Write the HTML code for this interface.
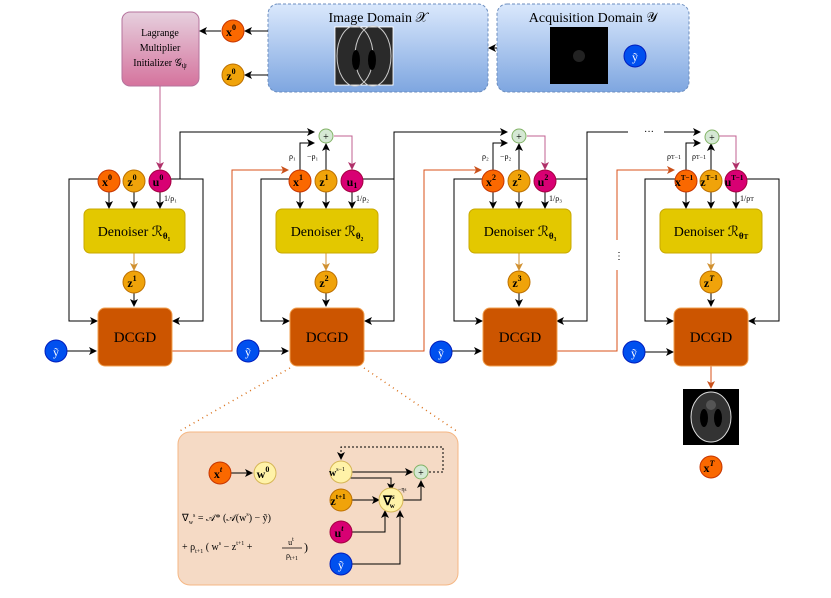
<!DOCTYPE html>
<html><head><meta charset="utf-8"><style>
body{margin:0;background:#fff}
text{font-family:"Liberation Serif",serif;}
</style></head><body>
<svg width="831" height="593" viewBox="0 0 831 593" xmlns="http://www.w3.org/2000/svg">
<defs>
<marker id="a" markerWidth="8" markerHeight="8" refX="7" refY="4" orient="auto" markerUnits="userSpaceOnUse"><path d="M0,0 L8,4 L0,8 L2,4z" fill="#000"/></marker>
<marker id="ao" markerWidth="8" markerHeight="8" refX="7" refY="4" orient="auto" markerUnits="userSpaceOnUse"><path d="M0,0 L8,4 L0,8 L2,4z" fill="#c9501a"/></marker>
<marker id="ap" markerWidth="8" markerHeight="8" refX="7" refY="4" orient="auto" markerUnits="userSpaceOnUse"><path d="M0,0 L8,4 L0,8 L2,4z" fill="#b0306a"/></marker>
<marker id="ay" markerWidth="8" markerHeight="8" refX="7" refY="4" orient="auto" markerUnits="userSpaceOnUse"><path d="M0,0 L8,4 L0,8 L2,4z" fill="#d09030"/></marker>
<linearGradient id="gb" x1="0" y1="0" x2="0" y2="1"><stop offset="0" stop-color="#dae8fc"/><stop offset="1" stop-color="#7ea6e0"/></linearGradient>
<linearGradient id="gp" x1="0" y1="0" x2="0" y2="1"><stop offset="0" stop-color="#e6d0de"/><stop offset="1" stop-color="#d5739d"/></linearGradient>
</defs>

<!-- top boxes -->
<rect x="122" y="12" width="77" height="74" rx="8" fill="url(#gp)" stroke="#b5739d"/>
<text x="160" y="36" font-size="10" text-anchor="middle">Lagrange</text>
<text x="160" y="51" font-size="10" text-anchor="middle">Multiplier</text>
<text x="160" y="66" font-size="10" text-anchor="middle">Initializer 𝒢<tspan font-size="8" dy="2">ψ</tspan></text>
<rect x="268" y="4" width="220" height="88" rx="10" fill="url(#gb)" stroke="#6c8ebf" stroke-dasharray="3,2"/>
<text x="378" y="22" font-size="14" text-anchor="middle">Image Domain 𝒳</text>
<rect x="335" y="27" width="58" height="58" fill="#000" stroke="#fff"/>
<rect x="336" y="28" width="56" height="56" fill="#2a2a2a"/>
<ellipse cx="355" cy="56" rx="18" ry="30" fill="none" stroke="#ccc"/>
<ellipse cx="373" cy="56" rx="18" ry="30" fill="none" stroke="#ccc"/>
<ellipse cx="356" cy="60" rx="4" ry="10" fill="#000"/><ellipse cx="372" cy="60" rx="4" ry="10" fill="#000"/>
<rect x="497" y="4" width="192" height="88" rx="10" fill="url(#gb)" stroke="#6c8ebf" stroke-dasharray="3,2"/>
<text x="593" y="22" font-size="14" text-anchor="middle">Acquisition Domain 𝒴</text>
<rect x="550" y="27" width="58" height="57" fill="#000"/>
<circle cx="579" cy="56" r="6" fill="#222"/>

<g stroke="#000" fill="none">
<line x1="268" y1="31" x2="245" y2="31" marker-end="url(#a)"/>
<line x1="221" y1="31" x2="200" y2="31" marker-end="url(#a)"/>
<line x1="268" y1="75" x2="245" y2="75" marker-end="url(#a)"/>
<line x1="497" y1="48" x2="489" y2="48" marker-end="url(#a)"/>
</g>
<line x1="160" y1="86" x2="160" y2="169" stroke="#c06090" marker-end="url(#ap)"/>

<!-- stage wiring -->
<g fill="none" stroke="#000">
<polyline points="98,179 69,179 69,321 97,321" marker-end="url(#a)"/>
<polyline points="171,179 203,179 203,321 173,321" marker-end="url(#a)"/>
<polyline points="171,179 180,179 180,132 314,132" marker-end="url(#a)"/>
<polyline points="289,179 261,179 261,321 289,321" marker-end="url(#a)"/>
<polyline points="363,179 394,179 394,321 365,321" marker-end="url(#a)"/>
<polyline points="394,179 394,132 507,132" marker-end="url(#a)"/>
<polyline points="300,170 300,143 314,143" marker-end="url(#a)"/>
<line x1="326" y1="170" x2="326" y2="144" marker-end="url(#a)"/>
<polyline points="482,179 454,179 454,321 482,321" marker-end="url(#a)"/>
<polyline points="556,179 587,179 587,321 557,321" marker-end="url(#a)"/>
<polyline points="587,179 587,132 628,132"/>
<polyline points="664,132 700,132" marker-end="url(#a)"/>
<polyline points="493,170 493,143 507,143" marker-end="url(#a)"/>
<line x1="519" y1="170" x2="519" y2="144" marker-end="url(#a)"/>
<polyline points="675,179 645,179 645,321 673,321" marker-end="url(#a)"/>
<polyline points="747,179 779,179 779,321 749,321" marker-end="url(#a)"/>
<polyline points="686,170 686,143 700,143" marker-end="url(#a)"/>
<line x1="711" y1="170" x2="711" y2="144" marker-end="url(#a)"/>
</g>
<g fill="none" stroke="#c06090">
<polyline points="334,136 352,136 352,169" marker-end="url(#ap)"/>
<polyline points="527,136 545,136 545,169" marker-end="url(#ap)"/>
<polyline points="719,136 736,136 736,169" marker-end="url(#ap)"/>
</g>
<g fill="none" stroke="#d9501a">
<polyline points="172,351 232,351 232,170 288,170" marker-end="url(#ao)"/>
<polyline points="364,351 424,351 424,170 481,170" marker-end="url(#ao)"/>
<polyline points="556,351 617,351 617,270"/>
<polyline points="617,240 617,170 674,170" marker-end="url(#ao)"/>
<line x1="711" y1="366" x2="711" y2="388" marker-end="url(#ao)"/>
</g>
<text x="644" y="135" font-size="10">···</text>
<text x="614" y="259" font-size="10">⋮</text>

<g stroke="#000">
<line x1="109" y1="192" x2="109" y2="208" marker-end="url(#a)"/>
<line x1="134" y1="192" x2="134" y2="208" marker-end="url(#a)"/>
<line x1="160" y1="192" x2="160" y2="208" marker-end="url(#a)"/>
<line x1="134" y1="293" x2="134" y2="306" marker-end="url(#a)"/>
<line x1="67" y1="351" x2="96" y2="351" marker-end="url(#a)"/>
<line x1="300" y1="192" x2="300" y2="208" marker-end="url(#a)"/>
<line x1="326" y1="192" x2="326" y2="208" marker-end="url(#a)"/>
<line x1="352" y1="192" x2="352" y2="208" marker-end="url(#a)"/>
<line x1="326" y1="293" x2="326" y2="306" marker-end="url(#a)"/>
<line x1="259" y1="351" x2="288" y2="351" marker-end="url(#a)"/>
<line x1="493" y1="192" x2="493" y2="208" marker-end="url(#a)"/>
<line x1="519" y1="192" x2="519" y2="208" marker-end="url(#a)"/>
<line x1="545" y1="192" x2="545" y2="208" marker-end="url(#a)"/>
<line x1="519" y1="293" x2="519" y2="306" marker-end="url(#a)"/>
<line x1="452" y1="351" x2="481" y2="351" marker-end="url(#a)"/>
<line x1="686" y1="192" x2="686" y2="208" marker-end="url(#a)"/>
<line x1="711" y1="192" x2="711" y2="208" marker-end="url(#a)"/>
<line x1="736" y1="192" x2="736" y2="208" marker-end="url(#a)"/>
<line x1="711" y1="293" x2="711" y2="306" marker-end="url(#a)"/>
<line x1="645" y1="352" x2="673" y2="352" marker-end="url(#a)"/>
</g>
<g stroke="#d09030">
<line x1="134" y1="253" x2="134" y2="270" marker-end="url(#ay)"/>
<line x1="326" y1="253" x2="326" y2="270" marker-end="url(#ay)"/>
<line x1="519" y1="253" x2="519" y2="270" marker-end="url(#ay)"/>
<line x1="711" y1="253" x2="711" y2="270" marker-end="url(#ay)"/>
</g>

<g fill="#e3c800" stroke="#c8a800">
<rect x="84" y="209" width="101" height="44" rx="6"/>
<rect x="276" y="209" width="102" height="44" rx="6"/>
<rect x="469" y="209" width="102" height="44" rx="6"/>
<rect x="660" y="209" width="102" height="44" rx="6"/>
</g>
<g font-size="14" text-anchor="middle">
<text x="134" y="236">Denoiser ℛ<tspan font-size="9" dy="3" font-weight="bold">θ₁</tspan></text>
<text x="327" y="236">Denoiser ℛ<tspan font-size="9" dy="3" font-weight="bold">θ₂</tspan></text>
<text x="520" y="236">Denoiser ℛ<tspan font-size="9" dy="3" font-weight="bold">θ₃</tspan></text>
<text x="711" y="236">Denoiser ℛ<tspan font-size="9" dy="3" font-weight="bold">θ<tspan font-size="7">T</tspan></tspan></text>
</g>
<g fill="#cc5500" stroke="#f0a050">
<rect x="98" y="308" width="74" height="58" rx="7"/>
<rect x="290" y="308" width="74" height="58" rx="7"/>
<rect x="483" y="308" width="74" height="58" rx="7"/>
<rect x="674" y="308" width="74" height="58" rx="7"/>
</g>
<g font-size="15" text-anchor="middle">
<text x="135" y="342">DCGD</text><text x="327" y="342">DCGD</text><text x="520" y="342">DCGD</text><text x="711" y="342">DCGD</text>
</g>

<!-- zoom box (drawn before inner circles) -->
<g stroke="#d9701a" stroke-dasharray="1,4" stroke-width="1.5">
<line x1="290" y1="368" x2="178" y2="432"/><line x1="364" y1="368" x2="458" y2="432"/>
</g>
<rect x="178" y="432" width="280" height="153" rx="12" fill="#f5dac5" stroke="#f5b784"/>
<g fill="none" stroke="#000">
<line x1="231" y1="473" x2="252" y2="473" marker-end="url(#a)"/>
<line x1="352" y1="472" x2="412" y2="472" marker-end="url(#a)"/>
<polyline points="350,478 391,478 391,490" marker-end="url(#a)"/>
<line x1="352" y1="500" x2="379" y2="500" marker-end="url(#a)"/>
<polyline points="352,532 385,532 385,511" marker-end="url(#a)"/>
<polyline points="352,564 400,564 400,511" marker-end="url(#a)"/>
<polyline points="403,500 421,500 421,481" marker-end="url(#a)"/>
<polyline points="429,472 443,472 443,447 341,447 341,459" stroke-dasharray="2,2" marker-end="url(#a)"/>
</g>

<g>
<g fill="#fa6800" stroke="#c73500">
<circle cx="233" cy="31" r="11"/><circle cx="109" cy="181" r="11"/><circle cx="300" cy="181" r="11"/><circle cx="493" cy="181" r="11"/><circle cx="686" cy="181" r="11"/><circle cx="711" cy="467" r="11"/><circle cx="220" cy="473" r="11"/>
</g>
<g fill="#f0a30a" stroke="#bd7000">
<circle cx="233" cy="75" r="11"/><circle cx="134" cy="181" r="11"/><circle cx="326" cy="181" r="11"/><circle cx="519" cy="181" r="11"/><circle cx="711" cy="181" r="11"/>
<circle cx="134" cy="282" r="11"/><circle cx="326" cy="282" r="11"/><circle cx="519" cy="282" r="11"/><circle cx="711" cy="282" r="11"/>
<circle cx="341" cy="500" r="11"/>
</g>
<g fill="#d80073" stroke="#a50040">
<circle cx="160" cy="181" r="11"/><circle cx="352" cy="181" r="11"/><circle cx="545" cy="181" r="11"/><circle cx="736" cy="181" r="11"/><circle cx="341" cy="532" r="11"/>
</g>
<g fill="#0050ef" stroke="#001dbc">
<circle cx="635" cy="56" r="11"/><circle cx="56" cy="351" r="11"/><circle cx="248" cy="351" r="11"/><circle cx="441" cy="352" r="11"/><circle cx="634" cy="352" r="11"/><circle cx="341" cy="564" r="11"/>
</g>
<g fill="#d5e8d4" stroke="#82b366">
<circle cx="326" cy="136" r="7"/><circle cx="519" cy="136" r="7"/><circle cx="712" cy="137" r="7"/>
</g>
</g>
<g font-size="12" font-weight="bold" text-anchor="middle">
<text x="231" y="36">x<tspan font-size="8" dy="-6">0</tspan></text>
<text x="231" y="80">z<tspan font-size="8" dy="-6">0</tspan></text>
<text x="107" y="186">x<tspan font-size="8" dy="-6">0</tspan></text>
<text x="132" y="186">z<tspan font-size="8" dy="-6">0</tspan></text>
<text x="158" y="186">u<tspan font-size="8" dy="-6">0</tspan></text>
<text x="298" y="186">x<tspan font-size="8" dy="-6">1</tspan></text>
<text x="324" y="186">z<tspan font-size="8" dy="-6">1</tspan></text>
<text x="352" y="186">u<tspan font-size="8" dy="2">1</tspan></text>
<text x="491" y="186">x<tspan font-size="8" dy="-6">2</tspan></text>
<text x="517" y="186">z<tspan font-size="8" dy="-6">2</tspan></text>
<text x="543" y="186">u<tspan font-size="8" dy="-6">2</tspan></text>
<text x="684" y="186">x<tspan font-size="7" dy="-6">T−1</tspan></text>
<text x="709" y="186">z<tspan font-size="7" dy="-6">T−1</tspan></text>
<text x="734" y="186">u<tspan font-size="7" dy="-6">T−1</tspan></text>
<text x="132" y="287">z<tspan font-size="8" dy="-6">1</tspan></text>
<text x="324" y="287">z<tspan font-size="8" dy="-6">2</tspan></text>
<text x="517" y="287">z<tspan font-size="8" dy="-6">3</tspan></text>
<text x="709" y="287">z<tspan font-size="8" dy="-6" font-style="italic">T</tspan></text>
<text x="709" y="472">x<tspan font-size="8" dy="-6" font-style="italic">T</tspan></text>
</g>
<g font-size="12" fill="#fff" text-anchor="middle">
<text x="635" y="61">ỹ</text><text x="56" y="356">ỹ</text><text x="248" y="356">ỹ</text><text x="441" y="357">ỹ</text><text x="634" y="357">ỹ</text><text x="341" y="569">ỹ</text>
</g>
<g font-size="10" text-anchor="middle">
<text x="326" y="140">+</text><text x="519" y="140">+</text><text x="712" y="141">+</text>
</g>
<g font-size="8">
<text x="164" y="201">1/ρ₁</text><text x="356" y="201">1/ρ₂</text><text x="549" y="201">1/ρ₃</text><text x="740" y="201">1/ρ<tspan font-size="6">T</tspan></text>
<text x="289" y="159">ρ₁</text><text x="307" y="159">−ρ₁</text>
<text x="482" y="159">ρ₂</text><text x="500" y="159">−ρ₂</text>
<text x="667" y="159">ρ<tspan font-size="6">T−1</tspan></text><text x="692" y="159">ρ<tspan font-size="6">T−1</tspan></text>
</g>

<rect x="683" y="389" width="56" height="56" fill="#000"/>
<ellipse cx="711" cy="417" rx="20" ry="25" fill="#333" stroke="#ddd"/>
<circle cx="711" cy="405" r="5" fill="#555"/>
<ellipse cx="704" cy="418" rx="4" ry="9" fill="#000"/><ellipse cx="718" cy="418" rx="4" ry="9" fill="#000"/>

<circle cx="265" cy="473" r="11" fill="#fff2a8" stroke="#d6b656"/>
<circle cx="341" cy="472" r="11" fill="#fff2a8" stroke="#d6b656"/>
<circle cx="391" cy="500" r="12" fill="#fff2a8" stroke="#d6b656"/>
<circle cx="421" cy="472" r="7" fill="#d5e8d4" stroke="#82b366"/>
<g font-size="12" font-weight="bold" text-anchor="middle">
<text x="218" y="478">x<tspan font-size="8" dy="-6" font-style="italic">t</tspan></text>
<text x="263" y="478">w<tspan font-size="8" dy="-6">0</tspan></text>
<text x="337" y="476" font-size="10">w<tspan font-size="6" dy="-5" font-weight="normal">s−1</tspan></text>
<text x="338" y="505">z<tspan font-size="7" dy="-6">t+1</tspan></text>
<text x="339" y="537">u<tspan font-size="8" dy="-6" font-style="italic">t</tspan></text>
<text x="389" y="505" font-size="13">∇<tspan font-size="7" dy="-6" font-style="italic">s</tspan><tspan font-size="7" dx="-5" dy="9">w</tspan></text>
</g>
<text x="421" y="476" font-size="10" text-anchor="middle">+</text>
<text x="398" y="491" font-size="6">−η<tspan font-size="5">s</tspan></text>
<text x="182" y="521" font-size="10">∇<tspan font-size="6" dy="3">w</tspan><tspan font-size="6" dy="-7">s</tspan><tspan dy="4"> = 𝒜* (𝒜(w<tspan font-size="6" dy="-5">s</tspan><tspan dy="5">) − ỹ)</tspan></tspan></text>
<text x="182" y="550" font-size="10">+ ρ<tspan font-size="6" dy="3">t+1</tspan><tspan dy="-3"> ( w<tspan font-size="6" dy="-5">s</tspan><tspan dy="5"> − z<tspan font-size="6" dy="-5">t+1</tspan><tspan dy="5"> + </tspan></tspan></tspan></text>
<text x="291" y="545" font-size="8" text-anchor="middle">u<tspan font-size="6" dy="-4">t</tspan></text>
<line x1="282" y1="548" x2="302" y2="548" stroke="#000" stroke-width="0.7"/>
<text x="292" y="558" font-size="8" text-anchor="middle">ρ<tspan font-size="6" dy="2">t+1</tspan></text>
<text x="304" y="551" font-size="12">)</text>
</svg>
</body></html>
